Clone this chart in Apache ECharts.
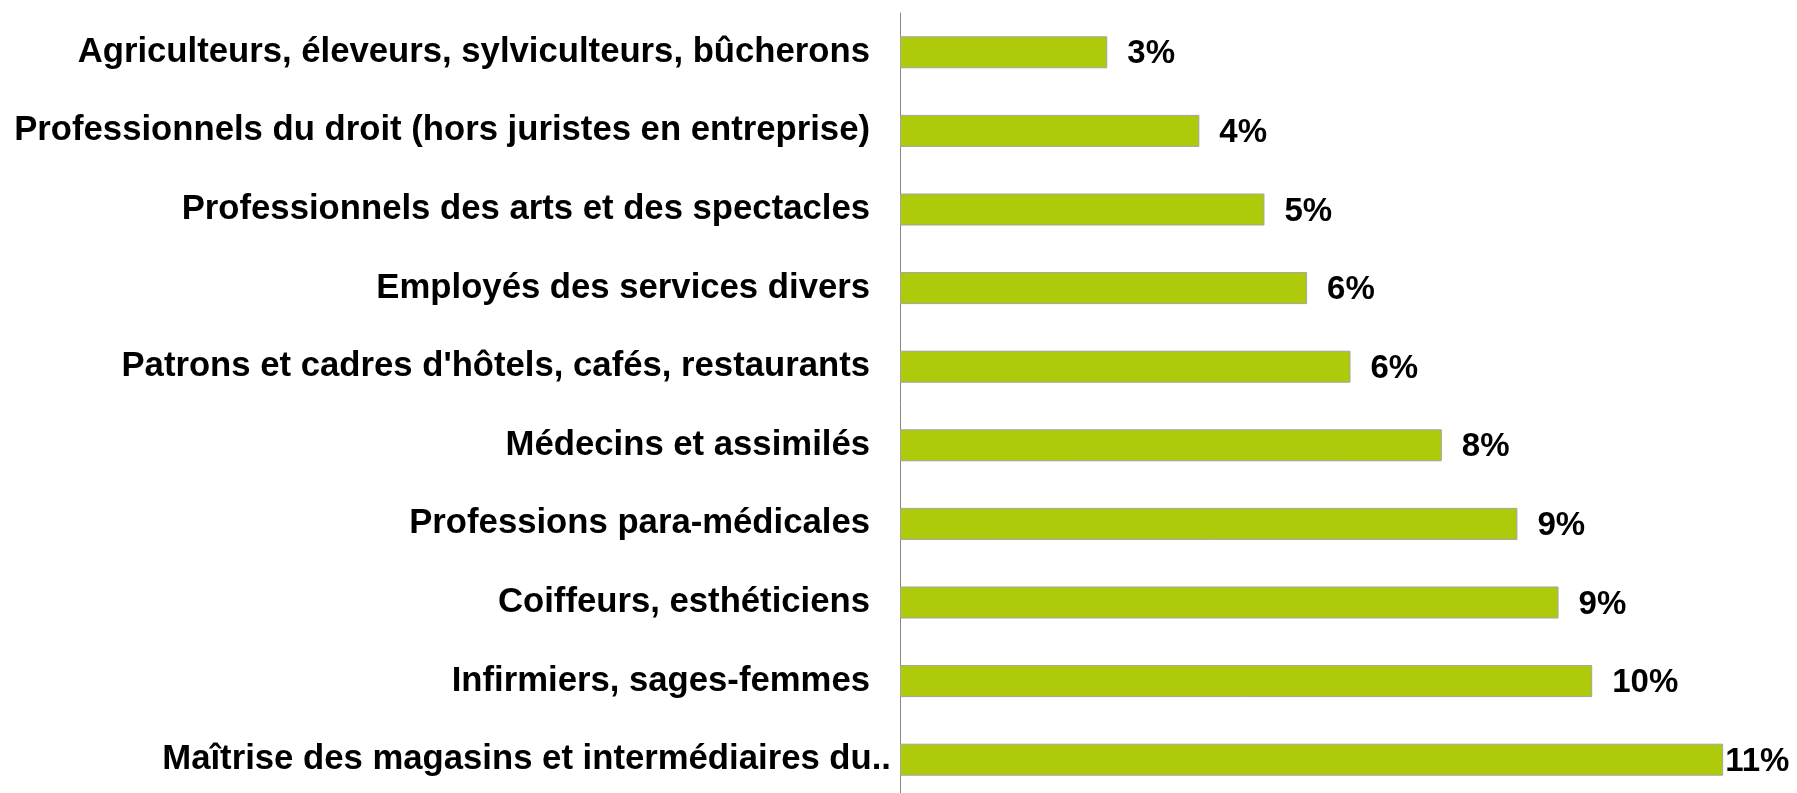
<!DOCTYPE html>
<html>
<head>
<meta charset="utf-8">
<script src="https://cdn.jsdelivr.net/npm/echarts@6/dist/echarts.min.js"></script>
<style>
  html, body { margin: 0; padding: 0; background: #fff; }
  #chart { width: 1797px; height: 793px; }
</style>
</head>
<body>
<div id="chart"></div>
<script>
// categories, top to bottom
const categories = [
   'Agriculteurs, éleveurs, sylviculteurs, bûcherons',
   'Professionnels du droit (hors juristes en entreprise)',
   'Professionnels des arts et des spectacles',
   'Employés des services divers',
   "Patrons et cadres d'hôtels, cafés, restaurants",
   'Médecins et assimilés',
   'Professions para-médicales',
   'Coiffeurs, esthéticiens',
   'Infirmiers, sages-femmes',
   'Maîtrise des magasins et intermédiaires du..'
];

// bar lengths (in %)
const values = [2.77, 4.0, 4.87, 5.44, 6.02, 7.24, 8.25, 8.8, 9.25, 11.0];

// data labels as printed
const labels = ['3%', '4%', '5%', '6%', '6%', '8%', '9%', '9%', '10%', '11%'];

const FONT = '"Liberation Sans", Arial, sans-serif';

function buildData(_values) {
   const last = _values.length - 1;
   return _values.map(function (v, i) {
      // the widest label is squeezed against its bar so it fits in the frame
      if (i === last) {
         return { value: v, label: { distance: 2 } };
      }
      return v;
   });
}

const option = {
   animation: false,
   backgroundColor: '#ffffff',
   grid: {
      left: 900,
      top: 13,
      width: 898,
      height: 786,
      containLabel: false,
      outerBoundsMode: 'none'
   },
   xAxis: {
      type: 'value',
      min: 0,
      max: 12,
      show: false
   },
   yAxis: {
      type: 'category',
      inverse: true,
      data: categories,
      axisLine: {
         show: true,
         lineStyle: { color: '#868686', width: 1 }
      },
      axisTick: { show: false },
      splitLine: { show: false },
      axisLabel: {
         margin: 9,
         formatter: function (v) {
            return v.slice(-2) === '..' ? '{t|' + v + '}' : '{n|' + v + '}';
         },
         rich: {
            n: {
               fontFamily: FONT, fontWeight: 'bold', fontSize: 34.7, color: '#000',
               padding: [0, 21, 0, 0]
            },
            t: {
               fontFamily: FONT, fontWeight: 'bold', fontSize: 34.7, color: '#000'
            }
         }
      }
   },
   series: [
      {
         type: 'bar',
         data: buildData(values),
         barWidth: 32,
         itemStyle: {
            color: '#afca0b',
            borderColor: '#a3a3a3',
            borderWidth: 1
         },
         label: {
            show: true,
            position: 'right',
            distance: 20,
            offset: [0, 2],
            fontFamily: FONT,
            fontWeight: 'bold',
            fontSize: 33,
            color: '#000',
            formatter: function (p) {
               return labels[p.dataIndex];
            }
         }
      }
   ]
};

const chart = echarts.init(document.getElementById('chart'), null, { renderer: 'canvas' });
chart.setOption(option);
</script>
</body>
</html>
